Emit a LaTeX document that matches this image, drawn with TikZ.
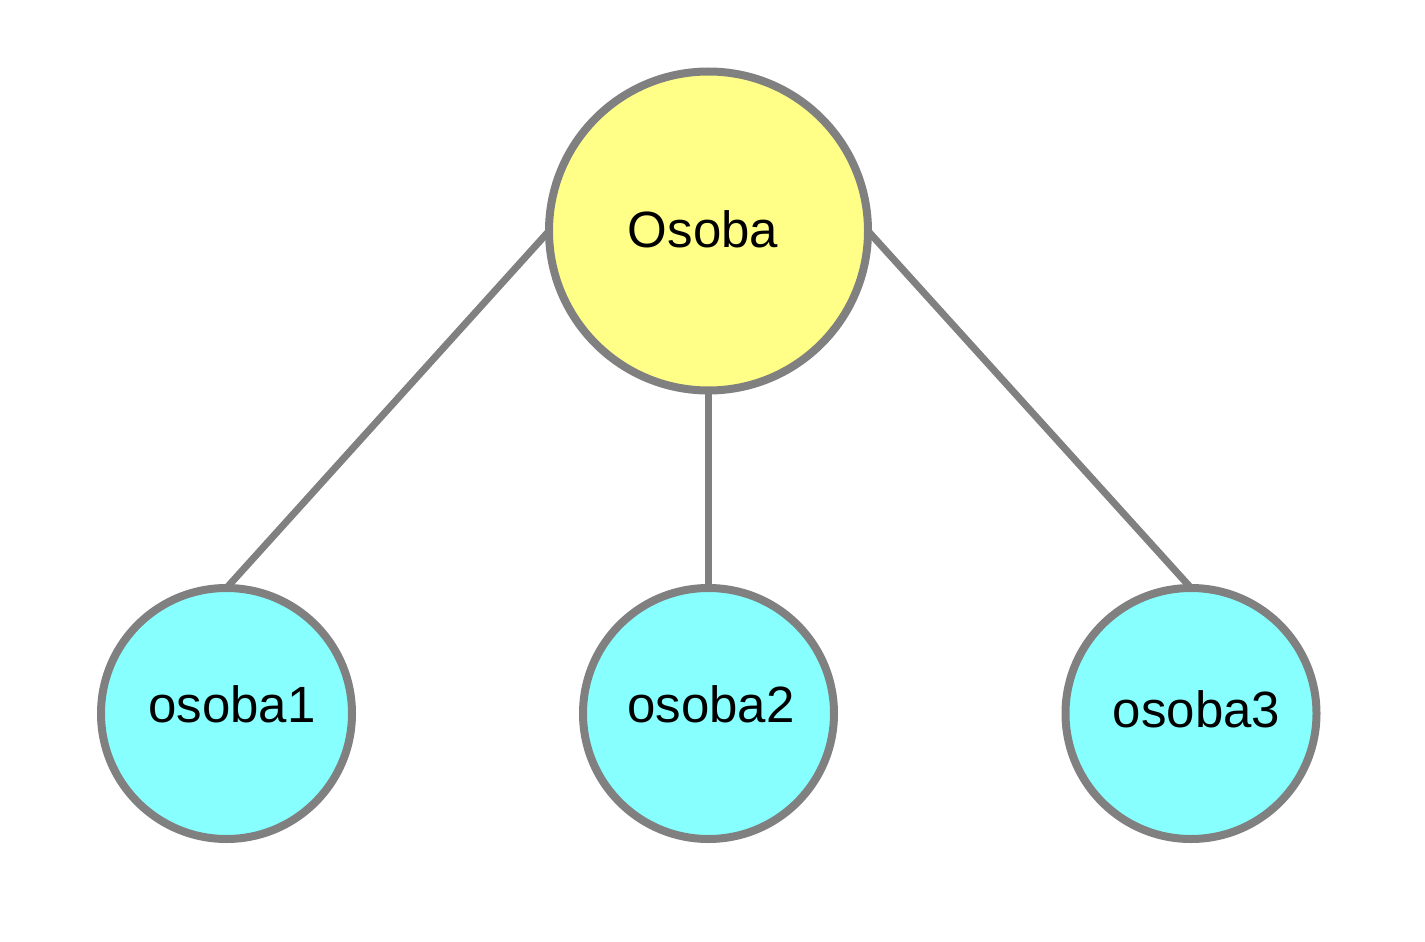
\documentclass[tikz,border=0pt]{standalone}
\usepackage{fontspec}
\setmainfont{Liberation Sans}
\usetikzlibrary{backgrounds}
\definecolor{edgegray}{HTML}{808080}
\definecolor{topyellow}{HTML}{FFFF88}
\definecolor{leafcyan}{HTML}{88FFFF}
\tikzset{
  circ/.style={circle, draw=edgegray, line width=8pt, inner sep=0pt, outer sep=0pt},
  topnode/.style={circ, fill=topyellow, minimum size=319pt},
  leafnode/.style={circ, fill=leafcyan, minimum size=251pt},
  link/.style={draw=edgegray, line width=7pt, line cap=round},
  txt/.style={anchor=base, inner sep=0pt, font=\fontsize{51}{60}\selectfont, text=black}
}
\begin{document}
\begin{tikzpicture}[x=1pt, y=-1pt]
\useasboundingbox (0,0) rectangle (1425,942);
\node[topnode] (top) at (708.5,231) {};
\node[leafnode] (o1) at (226.5,713.5) {};
\node[leafnode] (o2) at (708.5,713.5) {};
\node[leafnode] (o3) at (1191,713.5) {};
\begin{scope}[on background layer]
\draw[link] (top.west) -- (o1.north);
\draw[link] (top.south) -- (o2.north);
\draw[link] (top.east) -- (o3.north);
\end{scope}
\node[txt] (ttop) at (703,247) {Osoba};
\node[txt] (t1) at (232,722) {osoba1};
\node[txt] (t2) at (711,722) {osoba2};
\node[txt] (t3) at (1196.5,727) {osoba3};
\end{tikzpicture}
\end{document}
